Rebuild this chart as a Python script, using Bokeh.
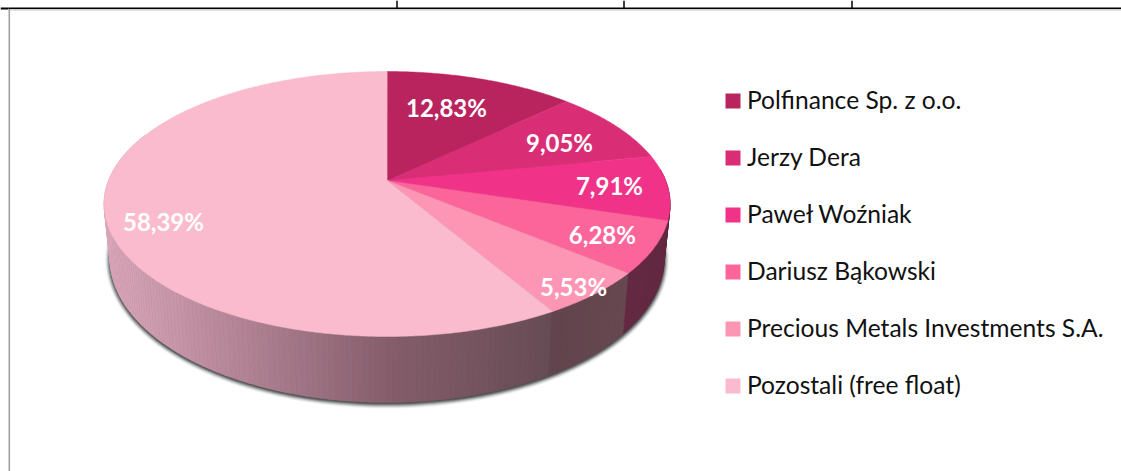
import math
from bokeh.plotting import figure
from bokeh.models import Range1d
from bokeh.core.properties import value
from bokeh.embed import file_html
from bokeh.resources import INLINE

names = ["Polfinance Sp. z o.o.", "Jerzy Dera", "Paweł Woźniak", "Dariusz Bąkowski",
         "Precious Metals Investments S.A.", "Pozostali (free float)"]
shares = [12.83, 9.05, 7.91, 6.28, 5.53, 58.39]
colors = ["#B9245F", "#D92E76", "#F03388", "#FB659A", "#FD96B5", "#FBBBCE"]
label_radius = [0.666, 0.722, 0.795, 0.823, 0.932, 0.818]
label_turn = [-2.1, 2.5, 0.3, 0.4, 1.3, -7.1]

W, H = 1121, 471
p = figure(width=W, height=H, output_backend="svg", toolbar_location=None,
           x_range=Range1d(0, W), y_range=Range1d(H, 0), min_border=0,
           margin=(0, 0, 0, 0), outline_line_color=None, background_fill_color="white")
p.axis.visible = False
p.grid.visible = False

CX, TOP_CY, TOP_RX, TOP_RY = 386.6, 203.5, 283, 132.5
BOT_CY, BOT_RX, BOT_RY = 258, 277, 144
T = 0.177


def proj(deg, r, cy, rx, ry):
    a = math.radians(deg)
    u, v = r * math.sin(a), r * math.cos(a)
    d = 1 + T * v
    return CX + rx * u * math.sqrt(1 - T * T) / d, cy - ry * (v + T) / d


def top(deg, r=1.0):
    return proj(deg, r, TOP_CY, TOP_RX, TOP_RY)


def bot(deg):
    return proj(deg, 1.0, BOT_CY, BOT_RX, BOT_RY)


bounds = [0.0]
for s in shares:
    bounds.append(bounds[-1] + s * 3.6 * 100 / sum(shares))


def mix(c1, c2, f):
    f = max(0, min(1, f))
    return "#%02x%02x%02x" % tuple(round(a + (b - a) * f) for a, b in zip(c1, c2))


# soft shadow behind the disc
for grow, alpha in [(5, 0.07), (4, 0.13), (3, 0.22), (2, 0.34), (1, 0.5), (0, 0.6)]:
    angs = [i * 2.0 for i in range(181)]
    xs = [CX + (BOT_RX + grow) * math.sin(math.radians(a)) for a in angs]
    ys = [BOT_CY + 1 + (BOT_RY + grow) * math.cos(math.radians(a)) for a in angs]
    p.patch(xs, ys, fill_color="#3c4040", fill_alpha=alpha, line_color=None)


# wall strips
def wall_color(a, xmid):
    if a < bounds[4]:
        return "#642842"
    if a < bounds[5]:
        return mix((104, 72, 80), (98, 68, 78), (a - bounds[4]) / (bounds[5] - bounds[4]))
    if xmid > 390:
        return mix((133, 93, 107), (103, 76, 85), (xmid - 390) / 158)
    return mix((217, 165, 185), (133, 93, 107), (xmid - 110) / 280)


wx, wy, wc = [], [], []
a = 85.0
while a < 292:
    b = a + 1.0
    t0, t1, b0, b1 = top(a), top(b), bot(a), bot(b)
    wx.append([t0[0], t1[0], b1[0], b0[0]])
    wy.append([t0[1], t1[1], b1[1], b0[1]])
    wc.append(wall_color(a + 0.5, (t0[0] + t1[0]) / 2))
    a = b
p.patches(wx, wy, fill_color=wc, line_color=wc, line_width=0.6)

# top face
sx, sy = [], []
for i in range(len(shares)):
    n = max(2, int(bounds[i + 1] - bounds[i]) * 2)
    pts = [top(bounds[i] + (bounds[i + 1] - bounds[i]) * k / n) for k in range(n + 1)]
    pts.append(top(0, 0))
    sx.append([q[0] for q in pts])
    sy.append([q[1] for q in pts])
p.patches(sx, sy, fill_color=colors, line_color=colors, line_width=0.5)

# data labels
lx, ly, lt = [], [], []
for i, s in enumerate(shares):
    q = top((bounds[i] + bounds[i + 1]) / 2 + label_turn[i], label_radius[i])
    lx.append(q[0] - 0.5)
    ly.append(q[1] - 1)
    lt.append(f"{s:.2f}%".replace(".", ","))
p.text(lx, ly, text=lt, text_color="white", text_font=value("Lato"), text_font_style="bold",
       text_font_size="24px", text_align="center", text_baseline="middle")

# legend
rows = [100.5 + 57 * i for i in range(len(names))]
p.rect([732.5] * len(names), rows, width=15, height=15, fill_color=colors, line_color=None)
p.text([746.5] * len(names), [r - 1.5 for r in rows], text=names, text_color="#111111",
       text_font=value("Lato"), text_font_size="24.6px", text_align="left", text_baseline="middle")

# page rules
p.line([8, W], [7.8, 7.8], line_color="black", line_width=1.5)
p.line([0, 8], [8, 8], line_color="black", line_width=2)
p.line([9, W], [9.4, 9.4], line_color="#c4c4c4", line_width=1.2)
p.segment([396.5, 623.5, 851.5], [0, 0, 0], [396.5, 623.5, 851.5], [8, 8, 8],
          line_color="black", line_width=1.5)
p.line([8.8, 8.8], [8.5, H], line_color="#a0a0a0", line_width=1.6)

open("out.html", "w").write(file_html(p, INLINE))
